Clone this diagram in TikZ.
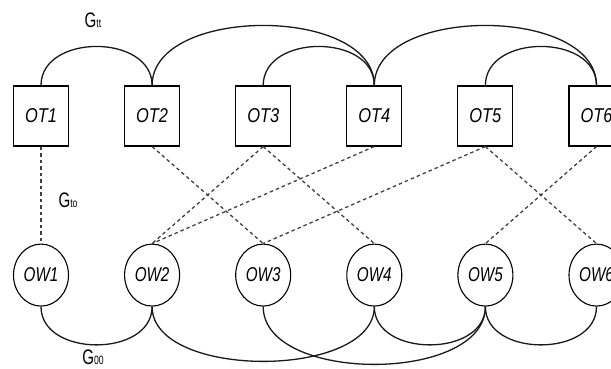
\documentclass[tikz,border=0pt]{standalone}
\usepackage{fontspec}
\setmainfont{Liberation Sans}
\newfontfamily\labfont[FakeStretch=0.82]{Liberation Sans}
\newfontfamily\owfont[FakeStretch=0.76]{Liberation Sans}
\newfontfamily\gfont[FakeStretch=0.72]{Liberation Sans}
\usetikzlibrary{
    shapes.geometric,
    positioning
}
\tikzset{
    tbox/.style={draw, line width=1.1pt, minimum width=55pt, minimum height=60pt, inner sep=0pt,
        font=\labfont\itshape\fontsize{20}{20}\selectfont},
    wcirc/.style={draw, ellipse, line width=1.1pt, minimum width=55pt, minimum height=62pt, inner sep=0pt,
        font=\owfont\itshape\fontsize{20}{20}\selectfont},
    glink/.style={black!90, line width=1.3pt},
    dlink/.style={black!75, line width=1.3pt, dash pattern=on 3.5pt off 3pt},
    glabel/.style={inner sep=0pt, font=\gfont\fontsize{21}{21}\selectfont}
}

\begin{document}
\begin{tikzpicture}[x=1pt, y=1pt, node distance=55pt]
    \useasboundingbox (0, 0) rectangle (611, 369);

    % OT row
    \node[tbox] (ot1) at (41, 253) {OT1};
    \node[tbox, right=of ot1] (ot2) {OT2};
    \node[tbox, right=of ot2] (ot3) {OT3};
    \node[tbox, right=of ot3] (ot4) {OT4};
    \node[tbox, right=of ot4] (ot5) {OT5};
    \node[tbox, right=of ot5] (ot6) {OT6};

    % OW row
    \node[wcirc, below=97pt of ot1] (ow1) {OW1};
    \node[wcirc, below=97pt of ot2] (ow2) {OW2};
    \node[wcirc, below=97pt of ot3] (ow3) {OW3};
    \node[wcirc, below=97pt of ot4] (ow4) {OW4};
    \node[wcirc, below=97pt of ot5] (ow5) {OW5};
    \node[wcirc, below=97pt of ot6] (ow6) {OW6};

    % OT - OT
    \draw[glink] (ot1.north) .. controls +(0, 52) and +(0, 52) .. (ot2.north);
    \draw[glink] (ot2.north) .. controls +(0, 80) and +(0, 80) .. (ot4.north);
    \draw[glink] (ot3.north) .. controls +(0, 52) and +(0, 52) .. (ot4.north);
    \draw[glink] (ot4.north) .. controls +(0, 80) and +(0, 80) .. (ot6.north);
    \draw[glink] (ot5.north) .. controls +(0, 52) and +(0, 52) .. (ot6.north);

    % OT - OW
    \draw[dlink] (ot1.south) -- (ow1.north);
    \draw[dlink] (ot2.south) -- (ow3.north);
    \draw[dlink] (ot3.south) -- (ow2.north);
    \draw[dlink] (ot3.south) -- (ow4.north);
    \draw[dlink] (ot4.south) -- (ow2.north);
    \draw[dlink] (ot5.south) -- (ow3.north);
    \draw[dlink] (ot5.south) -- (ow6.north);
    \draw[dlink] (ot6.south) -- (ow5.north);

    % OW - OW
    \draw[glink] (ow1.south) .. controls +(0, -51) and +(0, -51) .. (ow2.south);
    \draw[glink] (ow2.south) .. controls +(0, -73) and +(0, -73) .. (ow4.south);
    \draw[glink] (ow3.south) .. controls +(0, -77) and +(0, -77) .. (ow5.south);
    \draw[glink] (ow4.south) .. controls +(0, -51) and +(0, -51) .. (ow5.south);
    \draw[glink] (ow5.south) .. controls +(0, -51) and +(0, -51) .. (ow6.south);

    \node[glabel] (gtt) at (93, 349) {G{\fontsize{12}{12}\selectfont tt}};
    \node[glabel] (gto) at (68, 169) {G{\fontsize{12}{12}\selectfont to}};
    \node[glabel] (goo) at (93, 12) {G{\fontsize{12}{12}\selectfont 00}};
\end{tikzpicture}
\end{document}
